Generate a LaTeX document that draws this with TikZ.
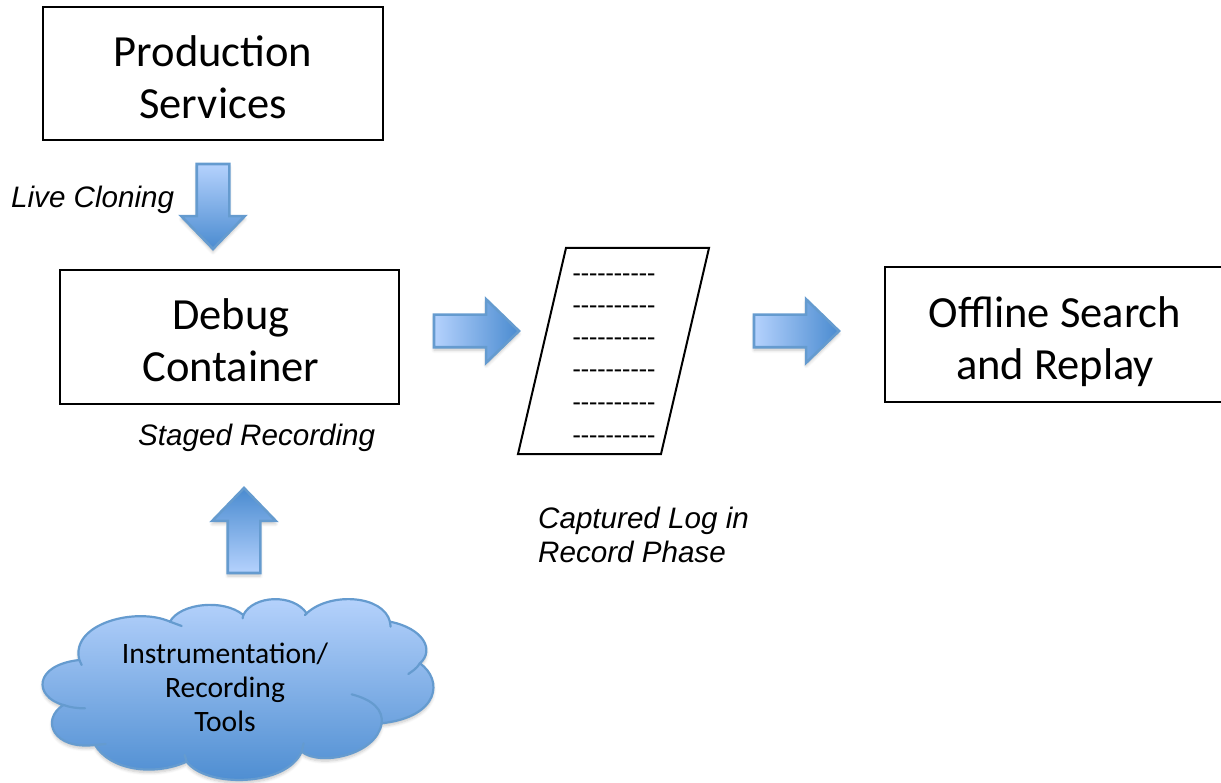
\documentclass[tikz,border=0pt]{standalone}
\usepackage{fontspec}
\usetikzlibrary{shapes.arrows,shadows.blur}
\newfontfamily\calib{Carlito}
\newfontfamily\helv{Liberation Sans}
\definecolor{arrLight}{HTML}{B5D2FD}
\definecolor{arrDark}{HTML}{4A8BD0}
\definecolor{arrEdge}{HTML}{659BCF}
\tikzset{
  x=1pt,y=-1pt,
  boxnode/.style={draw=black,line width=2pt,fill=white,inner sep=0pt,outer sep=0pt},
  boxtext/.style={inner sep=0pt,align=center,font=\calib\fontsize{44.5}{52}\selectfont},
  softshadow/.style={blur shadow={shadow blur steps=6,shadow xshift=0pt,shadow yshift=-3pt,shadow blur radius=3pt,shadow opacity=22}},
  blockbase/.style={single arrow,draw=arrEdge,line width=2.6pt,inner sep=0pt,outer sep=0pt,
    single arrow head extend=15.5pt,single arrow tip angle=88,softshadow},
  hblock/.style={blockbase,anchor=tail,minimum height=85pt,left color=arrLight,right color=arrDark},
  dblock/.style={blockbase,anchor=tail,minimum height=85pt,shape border rotate=270,top color=arrLight,bottom color=arrDark},
  ublock/.style={blockbase,anchor=tail,minimum height=85pt,shape border rotate=90,top color=arrDark,bottom color=arrLight},
  italiclabel/.style={font=\helv\itshape\fontsize{29.6}{34}\selectfont,inner sep=0pt,align=left},
  dashline/.style={font=\calib\fontsize{27}{27}\selectfont,inner sep=0pt},
  cloudtext/.style={font=\calib\fontsize{29.6}{34}\selectfont,inner sep=0pt,align=center},
  cloudline/.style={draw=arrEdge,line width=2.2pt,line cap=round},
}
\newcommand{\bodyh}{\rule{0pt}{30pt}}
\newcommand{\bodyv}{\rule{30pt}{0pt}}
\begin{document}
\begin{tikzpicture}
\useasboundingbox (0,0) rectangle (1221,783);
% boxes
\node[boxnode,minimum width=340pt,minimum height=133pt] (prod) at (213,73.5) {};
\node[boxtext] (prodtext) at (213,77) {Production\\Services};
\node[boxnode,minimum width=339pt,minimum height=134pt] (debug) at (229.5,337) {};
\node[boxtext] (debugtext) at (231,340) {Debug\\Container};
\node[boxnode,minimum width=340pt,minimum height=135pt] (offline) at (1055,334.5) {};
\node[boxtext] (offlinetext) at (1055,342) {Offline Search\\and Replay};
% block arrows
\node[dblock] (a1) at (213,164) {\bodyv};
\node[hblock] (a2) at (434,331) {\bodyh};
\node[hblock] (a3) at (754,331) {\bodyh};
\node[ublock] (a4) at (244,573) {\bodyv};
% log sheet
\draw[line width=2pt,line join=miter,fill=white] (566,248) -- (709,248) -- (661,454) -- (518,454) -- cycle;
\foreach \n/\yy in {1/278,2/310,3/342,4/374,5/407,6/440}{
  \node[dashline] (dash\n) at (614,\yy) {----------};
}
% labels
\node[italiclabel,anchor=west] (live) at (11,200) {Live Cloning};
\node[italiclabel,anchor=west] (staged) at (138,438) {Staged Recording};
\node[italiclabel,anchor=north west] (captured) at (538,507) {Captured Log in\\Record Phase};
% cloud
\begin{scope}[shift={(20,580)},x=0.3333pt,y=-0.3333pt]
\shade[top color=arrLight!95!white,bottom color=arrDark,draw=arrEdge,line width=2.2pt,softshadow]
  (178,240) .. controls (150,130) and (350,80) .. (450,125)
  .. controls (480,70) and (610,55) .. (670,105)
  .. controls (700,45) and (820,40) .. (860,100)
  .. controls (930,35) and (1090,45) .. (1110,125)
  .. controls (1210,145) and (1245,210) .. (1200,250)
  .. controls (1270,300) and (1260,410) .. (1085,430)
  .. controls (1070,525) and (900,560) .. (845,515)
  .. controls (800,620) and (560,625) .. (500,545)
  .. controls (400,590) and (270,570) .. (225,495)
  .. controls (100,510) and (60,420) .. (130,375)
  .. controls (40,350) and (40,255) .. (178,240) -- cycle;
\draw[cloudline] (178,240) -- (185,255);
\draw[cloudline] (450,125) -- (485,138);
\draw[cloudline] (670,105) -- (668,115);
\draw[cloudline] (860,100) -- (855,105);
\draw[cloudline] (1110,125) -- (1112,140);
\draw[cloudline] (1200,250) .. controls (1190,265) and (1180,272) .. (1165,282);
\draw[cloudline] (995,343) .. controls (1060,360) and (1090,390) .. (1085,430);
\draw[cloudline] (845,515) -- (851,490);
\draw[cloudline] (500,545) -- (494,525);
\draw[cloudline] (225,495) -- (257,492);
\draw[cloudline] (130,375) .. controls (150,382) and (170,385) .. (195,385);
\end{scope}
\node[cloudtext] (tools) at (225,687) {Instrumentation/\\Recording\\Tools};
\end{tikzpicture}
\end{document}
